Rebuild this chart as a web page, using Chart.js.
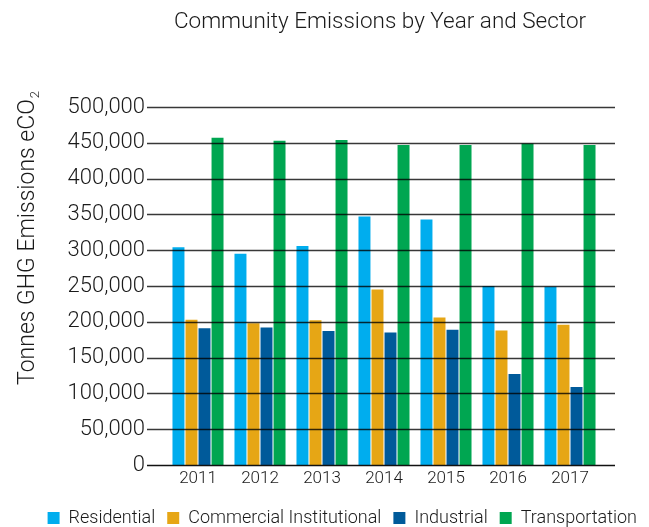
<!DOCTYPE html>
<html>
<head>
<meta charset="utf-8">
<script src="https://cdn.jsdelivr.net/npm/chart.js@4.4.1/dist/chart.umd.min.js"></script>
<style>
    html, body { margin: 0; padding: 0; background: #fff; }
    #wrap { width: 649px; height: 527px; }
</style>
</head>
<body>
<div id="wrap"><canvas id="emissoesChart" width="649" height="527"></canvas></div>
<script>
const anos = ['2011', '2012', '2013', '2014', '2015', '2016', '2017'];
const residencial = [304000, 295000, 306000, 347000, 343000, 250000, 249000];
const comercial = [203000, 198000, 202000, 245000, 206000, 188000, 196000];
const industrial = [191000, 192000, 187000, 185000, 189000, 127000, 109000];
const transporte = [457000, 453000, 454000, 447000, 447000, 449000, 447000];

const FONTE = 'Roboto, "DejaVu Sans", sans-serif';
const PESO = '300';
const COR_TEXTO = '#1a1a1a';

// linhas horizontais passam por cima das barras e vão além da área das categorias
const gradePlugin = {
    id: 'gradeEstendida',
    afterDatasetsDraw(chart) {
        const { ctx, chartArea, scales } = chart;
        const y = scales.y;
        ctx.save();
        y.ticks.forEach(t => {
            const py = Math.round(y.getPixelForValue(t.value)) + 0.5;
            ctx.beginPath();
            ctx.strokeStyle = t.value === 0 ? '#111' : 'rgba(0,0,0,0.78)';
            ctx.lineWidth = t.value === 0 ? 1.6 : 1.3;
            ctx.moveTo(chartArea.left - 20, py);
            ctx.lineTo(chartArea.right + 14, py);
            ctx.stroke();
        });
        ctx.restore();
    },
    afterDraw(chart) {
        const { ctx, chartArea } = chart;
        ctx.save();
        ctx.fillStyle = COR_TEXTO;

        // título
        ctx.font = PESO + ' 22.5px ' + FONTE;
        ctx.textAlign = 'center';
        ctx.textBaseline = 'alphabetic';
        ctx.fillText('Community Emissions by Year and Sector', (chartArea.left + chartArea.right) / 2 - 4, 28);

        // título do eixo Y com o "2" subscrito
        const principal = 'Tonnes GHG Emissions eCO';
        ctx.font = PESO + ' 23px ' + FONTE;
        const w1 = ctx.measureText(principal).width;
        ctx.font = PESO + ' 13px ' + FONTE;
        const w2 = ctx.measureText('2').width;
        const cy = (chartArea.top + chartArea.bottom) / 2 - 48;
        ctx.translate(34, cy);
        ctx.rotate(-Math.PI / 2);
        ctx.textAlign = 'left';
        ctx.font = PESO + ' 23px ' + FONTE;
        const x0 = -(w1 + w2 + 1) / 2;
        ctx.fillText(principal, x0, 0);
        ctx.font = PESO + ' 13px ' + FONTE;
        ctx.fillText('2', x0 + w1 + 1, 5);
        ctx.restore();
    }
};

new Chart(document.getElementById('emissoesChart'), {
    type: 'bar',
    data: {
        labels: anos,
        datasets: [
            { label: 'Residential', data: residencial, backgroundColor: '#00ADEE' },
            { label: 'Commercial Institutional', data: comercial, backgroundColor: '#E6A615' },
            { label: 'Industrial', data: industrial, backgroundColor: '#005A9A' },
            { label: 'Transportation', data: transporte, backgroundColor: '#00A651' }
        ]
    },
    options: {
        responsive: false,
        animation: false,
        layout: { padding: { top: 107, right: 0, left: 0, bottom: -10 } },
        datasets: {
            bar: { categoryPercentage: 0.84, barPercentage: 0.92, borderWidth: 0 }
        },
        plugins: {
            title: { display: false },
            tooltip: { enabled: false },
            legend: {
                position: 'bottom',
                align: 'end',
                labels: {
                    boxWidth: 12,
                    boxHeight: 12,
                    padding: 12,
                    color: COR_TEXTO,
                    font: { family: FONTE, size: 18, weight: PESO }
                }
            }
        },
        scales: {
            x: {
                grid: { display: false, drawTicks: false },
                border: { display: false },
                afterFit: scale => { scale.height = 32; },
                ticks: {
                    color: COR_TEXTO,
                    padding: 4,
                    font: { family: FONTE, size: 17, weight: PESO }
                }
            },
            y: {
                min: 0,
                max: 500000,
                grid: { display: false, drawTicks: false },
                border: { display: false },
                afterFit: scale => { scale.width = 167; },
                ticks: {
                    stepSize: 50000,
                    padding: 22,
                    color: COR_TEXTO,
                    font: { family: FONTE, size: 22, weight: PESO },
                    callback: v => v.toLocaleString('en-US')
                }
            },
            // eixo vazio à direita só para reservar a margem sem encolher a legenda
            margemDireita: {
                position: 'right',
                min: 0,
                max: 1,
                grid: { display: false },
                border: { display: false },
                ticks: { display: false },
                afterFit: scale => { scale.width = 48; }
            }
        }
    },
    plugins: [gradePlugin]
});
</script>
</body>
</html>
